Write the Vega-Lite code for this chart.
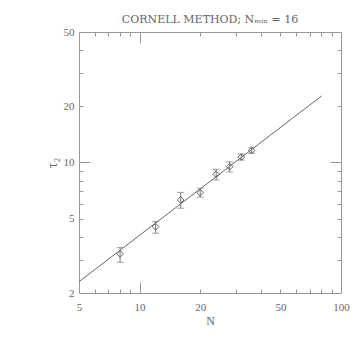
{
  "$schema": "https://vega.github.io/schema/vega-lite/v6.json",
  "width": 262,
  "height": 261,
  "autosize": "none",
  "padding": {"left": 79, "top": 32, "right": 19, "bottom": 67},
  "background": "white",
  "title": {"text": "CORNELL METHOD; Nₘᵢₙ = 16", "font": "DejaVu Serif", "fontSize": 11, "fontWeight": "normal", "color": "#666", "offset": 1},
  "config": {
    "view": {"stroke": "#999", "strokeWidth": 1},
    "axis": {"domain": false, "grid": false, "labelFont": "Liberation Serif", "labelFontSize": 11, "labelColor": "#666", "tickColor": "#999", "tickWidth": 1, "titleFont": "Liberation Serif", "titleFontSize": 12, "titleFontWeight": "normal", "titleColor": "#666", "labelFlush": false, "labelOverlap": false}
  },
  "datasets": {
    "pts": [
      {"N": 8, "tau": 3.24, "lo": 2.92, "hi": 3.5},
      {"N": 12, "tau": 4.53, "lo": 4.18, "hi": 4.82},
      {"N": 16, "tau": 6.3, "lo": 5.69, "hi": 6.92},
      {"N": 20, "tau": 6.89, "lo": 6.52, "hi": 7.28},
      {"N": 24, "tau": 8.65, "lo": 8.06, "hi": 9.2},
      {"N": 28, "tau": 9.5, "lo": 8.9, "hi": 10.07},
      {"N": 32, "tau": 10.7, "lo": 10.3, "hi": 11.1},
      {"N": 36, "tau": 11.6, "lo": 11.2, "hi": 12.0}
    ],
    "fit": [
      {"N": 5, "tau": 2.3},
      {"N": 80, "tau": 22.7}
    ]
  },
  "resolve": {"axis": {"x": "independent", "y": "independent"}},
  "layer": [
    {
      "data": {"name": "fit"},
      "mark": {"type": "line", "color": "#666", "strokeWidth": 1},
      "encoding": {
        "x": {"field": "N", "type": "quantitative", "scale": {"type": "log", "domain": [5, 100], "nice": false},
              "axis": {"orient": "bottom", "values": [5, 10, 20, 50, 100], "format": "d", "ticks": false, "labelPadding": 8, "title": "N", "titlePadding": 3}},
        "y": {"field": "tau", "type": "quantitative", "scale": {"type": "log", "domain": [2, 50], "nice": false},
              "axis": {"orient": "left", "values": [2, 5, 10, 20, 50], "format": "d", "ticks": false, "labelPadding": 5, "title": "τ₂", "titleFontSize": 14, "titlePadding": 4}}
      }
    },
    {
      "data": {"name": "pts"},
      "mark": {"type": "rule", "color": "#777", "strokeWidth": 1},
      "encoding": {
        "x": {"field": "N", "type": "quantitative", "scale": {"type": "log", "domain": [5, 100], "nice": false},
              "axis": {"orient": "bottom", "values": [6, 7, 8, 9, 20, 30, 40, 50, 60, 70, 80, 90], "labels": false, "tickSize": -4, "title": null}},
        "y": {"field": "lo", "type": "quantitative", "scale": {"type": "log", "domain": [2, 50], "nice": false},
              "axis": {"orient": "left", "values": [3, 4, 5, 6, 7, 8, 9, 20, 30, 40], "labels": false, "tickSize": -4, "title": null}},
        "y2": {"field": "hi"}
      }
    },
    {
      "data": {"name": "pts"},
      "mark": {"type": "tick", "orient": "horizontal", "size": 7, "thickness": 1, "color": "#777"},
      "encoding": {
        "x": {"field": "N", "type": "quantitative", "scale": {"type": "log", "domain": [5, 100], "nice": false},
              "axis": {"orient": "bottom", "values": [10], "labels": false, "tickSize": -11, "title": null}},
        "y": {"field": "lo", "type": "quantitative", "scale": {"type": "log", "domain": [2, 50], "nice": false},
              "axis": {"orient": "left", "values": [10], "labels": false, "tickSize": -11, "title": null}}
      }
    },
    {
      "data": {"name": "pts"},
      "mark": {"type": "tick", "orient": "horizontal", "size": 7, "thickness": 1, "color": "#777"},
      "encoding": {
        "x": {"field": "N", "type": "quantitative", "scale": {"type": "log", "domain": [5, 100], "nice": false},
              "axis": {"orient": "top", "values": [6, 7, 8, 9, 20, 30, 40, 50, 60, 70, 80, 90], "labels": false, "tickSize": -4, "title": null}},
        "y": {"field": "hi", "type": "quantitative", "scale": {"type": "log", "domain": [2, 50], "nice": false},
              "axis": {"orient": "right", "values": [3, 4, 5, 6, 7, 8, 9, 20, 30, 40], "labels": false, "tickSize": -4, "title": null}}
      }
    },
    {
      "data": {"name": "pts"},
      "mark": {"type": "point", "shape": "diamond", "size": 45, "filled": false, "stroke": "#666", "strokeWidth": 1, "opacity": 1},
      "encoding": {
        "x": {"field": "N", "type": "quantitative", "scale": {"type": "log", "domain": [5, 100], "nice": false},
              "axis": {"orient": "top", "values": [10], "labels": false, "tickSize": -11, "title": null}},
        "y": {"field": "tau", "type": "quantitative", "scale": {"type": "log", "domain": [2, 50], "nice": false},
              "axis": {"orient": "right", "values": [10], "labels": false, "tickSize": -11, "title": null}}
      }
    }
  ]
}
